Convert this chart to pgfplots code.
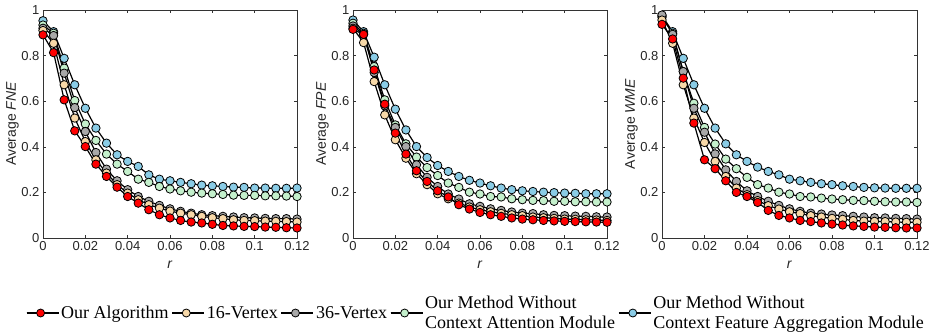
\documentclass[border=0pt]{standalone}
\usepackage{pgfplots}
\pgfplotsset{compat=1.18}
\usepackage{pgfplotstable}
\usepackage{fontspec}
\setmainfont{Liberation Sans}
\newfontfamily\timesfont{Liberation Serif}

\definecolor{cred}{RGB}{255,0,0}
\definecolor{ctan}{RGB}{247,216,168}
\definecolor{cgray}{RGB}{168,168,168}
\definecolor{cgreen}{RGB}{196,240,204}
\definecolor{cblue}{RGB}{138,204,230}

\pgfplotstableread{
r red tan gray green blue
0 0.891 0.910 0.920 0.934 0.953
0.005 0.813 0.854 0.888 0.898 0.905
0.010 0.606 0.672 0.723 0.745 0.788
0.015 0.470 0.526 0.572 0.603 0.672
0.020 0.401 0.423 0.467 0.500 0.569
0.025 0.324 0.343 0.375 0.428 0.482
0.030 0.270 0.285 0.302 0.368 0.416
0.035 0.223 0.234 0.251 0.324 0.365
0.040 0.182 0.197 0.212 0.292 0.336
0.045 0.153 0.168 0.182 0.258 0.314
0.050 0.124 0.146 0.161 0.244 0.277
0.055 0.102 0.131 0.143 0.226 0.258
0.060 0.088 0.118 0.128 0.215 0.251
0.065 0.077 0.109 0.117 0.207 0.244
0.070 0.070 0.102 0.109 0.201 0.238
0.075 0.066 0.095 0.102 0.197 0.232
0.080 0.060 0.089 0.098 0.194 0.229
0.085 0.055 0.085 0.095 0.191 0.226
0.090 0.053 0.080 0.092 0.188 0.223
0.095 0.051 0.077 0.089 0.187 0.222
0.100 0.050 0.076 0.088 0.187 0.219
0.105 0.048 0.074 0.086 0.185 0.219
0.110 0.047 0.073 0.085 0.185 0.218
0.115 0.045 0.072 0.085 0.184 0.218
0.120 0.044 0.070 0.083 0.182 0.219
}\fne

\pgfplotstableread{
r red tan gray green blue
0 0.915 0.920 0.930 0.942 0.956
0.005 0.893 0.857 0.893 0.898 0.905
0.010 0.737 0.686 0.726 0.752 0.793
0.015 0.587 0.540 0.580 0.606 0.672
0.020 0.460 0.431 0.485 0.496 0.565
0.025 0.368 0.350 0.401 0.413 0.474
0.030 0.295 0.282 0.321 0.355 0.401
0.035 0.248 0.234 0.266 0.309 0.353
0.040 0.207 0.194 0.226 0.274 0.318
0.045 0.180 0.172 0.193 0.241 0.292
0.050 0.146 0.153 0.171 0.222 0.270
0.055 0.127 0.136 0.150 0.201 0.253
0.060 0.112 0.124 0.139 0.193 0.241
0.065 0.102 0.115 0.128 0.182 0.229
0.070 0.095 0.108 0.121 0.180 0.219
0.075 0.088 0.102 0.114 0.172 0.212
0.080 0.083 0.098 0.109 0.168 0.207
0.085 0.080 0.092 0.107 0.165 0.204
0.090 0.077 0.089 0.102 0.164 0.201
0.095 0.075 0.086 0.099 0.161 0.199
0.100 0.073 0.083 0.098 0.161 0.197
0.105 0.072 0.082 0.096 0.159 0.196
0.110 0.071 0.080 0.095 0.159 0.194
0.115 0.070 0.079 0.093 0.158 0.194
0.120 0.069 0.077 0.092 0.158 0.194
}\fpe

\pgfplotstableread{
r red tan gray green blue
0 0.937 0.956 0.978 0.968 0.974
0.005 0.873 0.854 0.893 0.898 0.905
0.010 0.701 0.672 0.730 0.730 0.788
0.015 0.504 0.526 0.569 0.591 0.672
0.020 0.343 0.419 0.464 0.485 0.569
0.025 0.304 0.336 0.369 0.412 0.482
0.030 0.251 0.270 0.299 0.346 0.413
0.035 0.200 0.219 0.248 0.304 0.365
0.040 0.182 0.190 0.207 0.266 0.336
0.045 0.156 0.164 0.182 0.234 0.311
0.050 0.121 0.142 0.161 0.219 0.292
0.055 0.099 0.127 0.143 0.201 0.277
0.060 0.088 0.115 0.128 0.193 0.258
0.065 0.077 0.107 0.117 0.182 0.251
0.070 0.072 0.098 0.109 0.180 0.244
0.075 0.066 0.092 0.105 0.175 0.238
0.080 0.061 0.086 0.101 0.171 0.234
0.085 0.057 0.082 0.098 0.168 0.229
0.090 0.053 0.077 0.095 0.165 0.226
0.095 0.051 0.074 0.092 0.164 0.222
0.100 0.048 0.073 0.089 0.161 0.220
0.105 0.047 0.072 0.088 0.159 0.219
0.110 0.045 0.070 0.086 0.158 0.218
0.115 0.044 0.069 0.085 0.158 0.218
0.120 0.044 0.069 0.083 0.156 0.218
}\wme

\pgfplotsset{
  myaxis/.style={
    scale only axis, width=254pt, height=228pt,
    xmin=0, xmax=0.12, ymin=0, ymax=1,
    xtick={0,0.02,0.04,0.06,0.08,0.1,0.12},
    xticklabels={0,0.02,0.04,0.06,0.08,0.1,0.12},
    ytick={0,0.2,0.4,0.6,0.8,1},
    yticklabels={0,0.2,0.4,0.6,0.8,1},
    scaled ticks=false,
    tick align=inside, major tick length=3pt,
    axis line style={black!80, line width=0.6pt},
    tick style={black!80, line width=0.6pt},
    tick label style={font=\fontsize{13}{15}\selectfont, text=black!85},
    xlabel={\textit{r}},
    every axis x label/.style={at={(axis description cs:0.5,-0.118)}, anchor=center, font=\fontsize{14}{16}\selectfont, text=black!85},
    every axis y label/.style={at={(axis description cs:-0.12,0.5)}, rotate=90, anchor=center, font=\fontsize{14}{16}\selectfont, text=black!85},
    every axis plot/.append style={black, line width=1.2pt, mark=*, mark size=4.2pt},
  },
  pl/.style={mark options={solid, fill=#1, draw=black, line width=0.8pt}},
}

\newcommand{\plotall}[1]{%
  \addplot[pl=cblue] table[x=r,y=blue]{#1};
  \addplot[pl=cgreen] table[x=r,y=green]{#1};
  \addplot[pl=cgray] table[x=r,y=gray]{#1};
  \addplot[pl=ctan] table[x=r,y=tan]{#1};
  \addplot[pl=cred] table[x=r,y=red]{#1};
}

\begin{document}
\begin{tikzpicture}
\path[use as bounding box] (0,0) rectangle (932pt,333pt);
\begin{axis}[myaxis, at={(43pt,95pt)}, anchor=south west, ylabel={Average \textit{FNE}}]
\plotall{\fne}
\end{axis}
\begin{axis}[myaxis, at={(353pt,95pt)}, anchor=south west, ylabel={Average \textit{FPE}},
  reverse legend, legend columns=5,
  legend style={at={(axis description cs:0.484,-0.329)}, anchor=center, draw=none, fill=none,
    font=\timesfont\fontsize{18}{20}\selectfont, cells={align=left},
    /tikz/every even column/.append style={column sep=1pt}},
  legend image code/.code={\path (0pt,0pt) -- (32pt,0pt);\draw[mark repeat=2,mark phase=2,line width=1.1pt,mark size=4pt] plot coordinates {(0pt,0pt)(14pt,0pt)(28pt,0pt)};},
  legend entries={{Our Method Without\\Context Feature Aggregation Module},{Our Method Without\\Context Attention Module},36-Vertex,16-Vertex,Our Algorithm}]
\plotall{\fpe}
\end{axis}
\begin{axis}[myaxis, at={(662pt,95pt)}, anchor=south west, width=255pt, ylabel={Average \textit{WME}}]
\plotall{\wme}
\end{axis}
\end{tikzpicture}
\end{document}
